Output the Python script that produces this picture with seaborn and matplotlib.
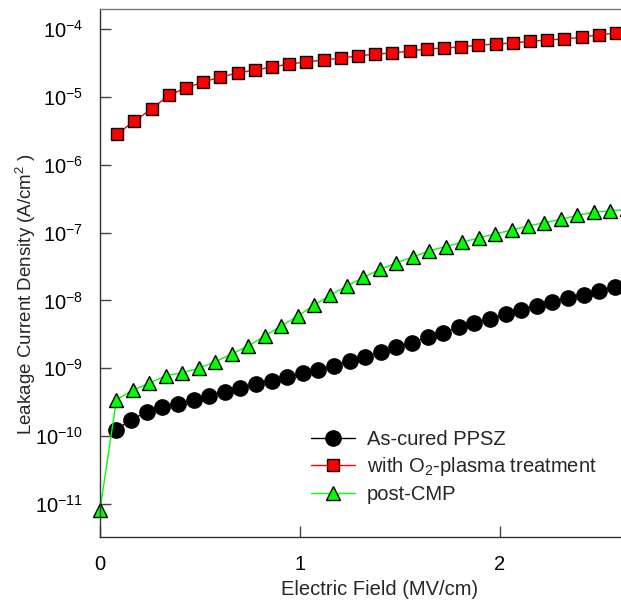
import numpy as np
import pandas as pd
import matplotlib
matplotlib.use("Agg")
import matplotlib.pyplot as plt
from matplotlib.ticker import FixedLocator, FixedFormatter, NullLocator
import seaborn as sns

# ---------------- data ----------------
field_ascured = [0.078, 0.156, 0.234, 0.312, 0.39, 0.468, 0.546, 0.624, 0.702, 0.78,
                 0.858, 0.936, 1.014, 1.092, 1.17, 1.248, 1.326, 1.404, 1.482, 1.56,
                 1.638, 1.716, 1.794, 1.872, 1.95, 2.028, 2.106, 2.184, 2.262, 2.34,
                 2.418, 2.496, 2.574]
j_ascured = [1.22e-10, 1.76e-10, 2.25e-10, 2.66e-10, 3.01e-10, 3.44e-10, 3.94e-10, 4.55e-10,
             5.11e-10, 5.83e-10, 6.59e-10, 7.40e-10, 8.45e-10, 9.44e-10, 1.08e-9, 1.28e-9,
             1.48e-9, 1.75e-9, 2.07e-9, 2.40e-9, 2.89e-9, 3.36e-9, 4.03e-9, 4.69e-9,
             5.31e-9, 6.30e-9, 7.19e-9, 8.34e-9, 9.53e-9, 1.09e-8, 1.22e-8, 1.38e-8, 1.58e-8]

field_o2 = [0.086, 0.172, 0.258, 0.344, 0.43, 0.516, 0.602, 0.688, 0.774, 0.86,
            0.946, 1.032, 1.118, 1.204, 1.29, 1.376, 1.462, 1.548, 1.634, 1.72,
            1.806, 1.892, 1.978, 2.064, 2.15, 2.236, 2.322, 2.408, 2.494, 2.58]
j_o2 = [2.84e-6, 4.41e-6, 6.62e-6, 1.06e-5, 1.35e-5, 1.66e-5, 1.96e-5, 2.25e-5, 2.49e-5,
        2.75e-5, 3.05e-5, 3.27e-5, 3.49e-5, 3.74e-5, 4.00e-5, 4.28e-5, 4.43e-5, 4.74e-5,
        5.07e-5, 5.25e-5, 5.43e-5, 5.81e-5, 6.01e-5, 6.22e-5, 6.59e-5, 6.89e-5, 7.13e-5,
        7.55e-5, 8.24e-5, 8.65e-5]

field_cmp = [0.0, 0.082, 0.165, 0.247, 0.329, 0.412, 0.494, 0.576, 0.658, 0.741,
             0.823, 0.905, 0.988, 1.07, 1.152, 1.235, 1.317, 1.399, 1.481, 1.564,
             1.646, 1.728, 1.811, 1.893, 1.975, 2.058, 2.14, 2.222, 2.304, 2.387,
             2.469, 2.551, 2.634]
j_cmp = [8.2e-12, 3.43e-10, 4.80e-10, 6.03e-10, 7.78e-10, 8.61e-10, 1.0e-9, 1.25e-9,
         1.62e-9, 2.13e-9, 2.99e-9, 4.19e-9, 5.87e-9, 8.53e-9, 1.20e-8, 1.64e-8,
         2.18e-8, 2.86e-8, 3.57e-8, 4.38e-8, 5.37e-8, 6.22e-8, 7.19e-8, 8.34e-8,
         9.55e-8, 1.09e-7, 1.25e-7, 1.40e-7, 1.57e-7, 1.79e-7, 2.0e-7, 2.09e-7, 2.19e-7]

labels = ["As-cured PPSZ", "with O$_2$-plasma treatment", "post-CMP"]
x_ticks = [0, 1, 2]
x_ticklabels = ["0", "1", "2"]
y_ticks = [1e-11, 1e-10, 1e-9, 1e-8, 1e-7, 1e-6, 1e-5, 1e-4]
y_ticklabels = [r"$10^{-11}$", r"$10^{-10}$", r"$10^{-9}$", r"$10^{-8}$",
                r"$10^{-7}$", r"$10^{-6}$", r"$10^{-5}$", r"$10^{-4}$"]

# ---------------- style ----------------
sns.set_style("white")
plt.rcParams["font.family"] = ["Liberation Sans", "DejaVu Sans"]
plt.rcParams["mathtext.fontset"] = "custom"
plt.rcParams["mathtext.rm"] = "Liberation Sans"
plt.rcParams["mathtext.it"] = "Liberation Sans:italic"
plt.rcParams["mathtext.bf"] = "Liberation Sans:bold"

fig = plt.figure(figsize=(6.21, 6.10), dpi=100)
W, H = 621, 610
ax = fig.add_axes([100 / W, (H - 537) / H, 560 / W, 528 / H])

fs = 14.5
sns.lineplot(x=field_ascured, y=j_ascured, ax=ax, color="black", lw=1,
             marker="o", markersize=11, markerfacecolor="black",
             markeredgecolor="black", markeredgewidth=1, label=labels[0],
             sort=False, clip_on=False)
sns.lineplot(x=field_o2, y=j_o2, ax=ax, color="#ff0000", lw=1,
             marker="s", markersize=8.5, markerfacecolor="#ff0000",
             markeredgecolor="black", markeredgewidth=1, label=labels[1],
             sort=False, clip_on=False)
sns.lineplot(x=field_cmp, y=j_cmp, ax=ax, color="#00ff00", lw=1,
             marker="^", markersize=10, markerfacecolor="#00ff00",
             markeredgecolor="black", markeredgewidth=1, label=labels[2],
             sort=False, clip_on=False)

ax.set_yscale("log")
ax.set_xlim(0, 2.8)
ax.set_ylim(10 ** -11.486, 10 ** -3.705)

ax.xaxis.set_major_locator(FixedLocator(x_ticks))
ax.xaxis.set_major_formatter(FixedFormatter(x_ticklabels))
ax.yaxis.set_major_locator(FixedLocator(y_ticks))
ax.yaxis.set_major_formatter(FixedFormatter(y_ticklabels))
ax.yaxis.set_minor_locator(NullLocator())
ax.xaxis.set_minor_locator(NullLocator())

ax.tick_params(axis="both", which="major", direction="in", length=8, width=1,
               color="#444444", labelsize=fs, labelcolor="black")
ax.tick_params(axis="x", pad=13, bottom=True, top=False)
ax.tick_params(axis="y", pad=12, left=True, right=False)

for side in ["left", "bottom"]:
    ax.spines[side].set_color("#333333")
    ax.spines[side].set_linewidth(1)
ax.spines["top"].set_color("#777777")
ax.spines["top"].set_linewidth(1)
ax.spines["right"].set_visible(True)

ax.set_xlabel("Electric Field (MV/cm)", fontsize=fs, labelpad=4)
ax.set_ylabel("Leakage Current Density (A/cm$^2$ )", fontsize=13.5)
ax.yaxis.set_label_coords(-0.110, 0.46)

leg = ax.legend(loc="upper left", bbox_to_anchor=(0.377, 0.203), frameon=False,
                fontsize=fs, handlelength=2.2, handletextpad=0.55,
                labelspacing=0.32, borderpad=0, borderaxespad=0, numpoints=1)

fig.savefig("out.png", dpi=100)
